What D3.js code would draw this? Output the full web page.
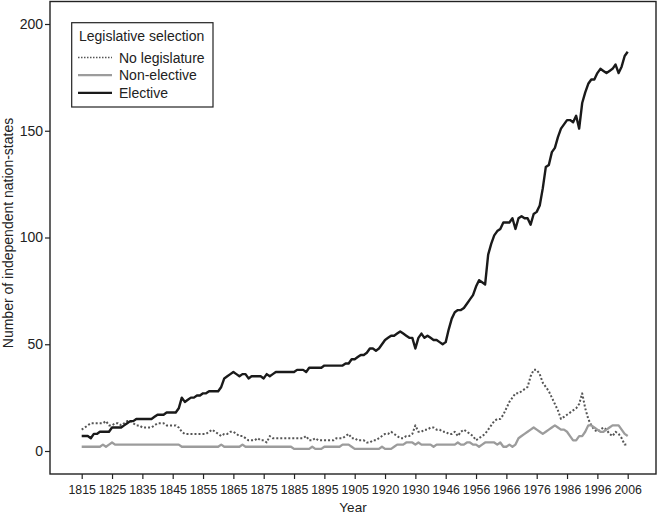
<!DOCTYPE html>
<html>
<head>
<meta charset="utf-8">
<script src="https://cdn.jsdelivr.net/npm/d3@7"></script>
<style>
  html, body { margin: 0; padding: 0; background: #fff; }
  svg { display: block; font-family: "Liberation Sans", Arial, Helvetica, sans-serif; }
</style>
</head>
<body>
<svg id="chart" width="659" height="515"></svg>
<script>
// Observation years (war years 1914-1918 and 1940-1945 are not in the series)
const years = [...d3.range(1815, 1914), ...d3.range(1919, 1940), ...d3.range(1946, 2007)];
const xTickLabels = ["1815","1825","1835","1845","1855","1865","1875","1885","1895","1905",
                     "1920","1930","1946","1956","1966","1976","1986","1996","2006"];
const yTickValues = [0, 50, 100, 150, 200];

const seriesNames = ["No legislature", "Non-elective", "Elective"];

const noLegislature = [
 10,11,12,13,13,13,13,13,14,12,
 12,13,13,12,13,14,14,13,12,12,
 11,11,11,11,12,13,13,13,12,12,
 12,12,11,9,8,8,8,8,8,8,
 8,8,9,10,9,8,7,8,8,9,
 9,8,7,7,6,5,5,5,6,5,
 5,4,7,6,6,6,6,6,6,6,
 6,6,6,6,7,5,5,6,5,5,
 5,5,5,5,6,6,6,7,8,6,
 6,5,5,5,4,4,5,5,6,7,
 8,8,9,8,7,6,6,7,7,8,
 12,9,9,10,10,11,11,10,10,9,
 9,8,8,9,7,9,10,9,8,7,
 5,6,7,8,10,12,14,15,15,17,
 20,23,25,27,27,28,29,30,35,38,
 38,36,32,30,28,25,22,19,15,16,
 17,18,19,20,22,27,20,15,12,10,
 9,10,11,10,8,7,9,8,6,3,
 3
];

const nonElective = [
 2,2,2,2,2,2,2,3,2,3,
 4,3,3,3,3,3,3,3,3,3,
 3,3,3,3,3,3,3,3,3,3,
 3,3,3,2,2,2,2,2,2,2,
 2,2,2,2,2,2,3,2,2,2,
 2,2,2,3,2,2,2,2,2,2,
 2,2,2,2,2,2,2,2,2,2,
 1,1,1,1,1,1,2,1,1,1,
 2,2,2,2,2,2,3,3,3,2,
 1,1,1,1,1,1,1,1,1,2,
 1,1,1,2,3,3,3,4,4,4,
 3,4,3,3,3,3,2,3,3,3,
 3,3,3,3,4,3,3,4,4,3,
 3,2,3,4,4,4,4,3,4,2,
 2,3,2,3,6,7,8,9,10,11,
 10,9,8,9,10,11,12,11,10,10,
 9,7,5,5,7,7,9,12,12,11,
 10,9,9,10,11,12,12,12,10,8,
 7
];

const elective = [
 7,7,7,6,8,8,9,9,9,9,
 11,11,11,11,12,13,14,14,15,15,
 15,15,15,15,16,17,17,17,18,18,
 18,18,20,25,23,24,25,25,26,26,
 27,27,28,28,28,28,30,34,35,36,
 37,36,35,36,36,34,35,35,35,35,
 34,36,35,36,37,37,37,37,37,37,
 37,38,38,38,37,39,39,39,39,39,
 40,40,40,40,40,40,40,41,41,43,
 43,44,45,45,46,48,48,47,48,50,
 52,53,54,54,55,56,55,54,53,53,
 48,53,55,53,54,53,52,52,51,50,
 51,57,62,65,66,66,67,69,71,73,
 77,80,79,78,92,97,101,103,104,107,
 107,107,109,104,109,110,109,109,106,111,
 112,115,123,133,134,140,142,147,151,153,
 155,155,154,157,151,163,168,172,174,174,
 177,179,178,177,178,179,181,177,180,185,
 187
];

const seriesData = [noLegislature, nonElective, elective];
const seriesStyle = [
  { color: "#555555", width: 2, dash: "2,2" },
  { color: "#9c9c9c", width: 2.3, dash: null },
  { color: "#1a1a1a", width: 2.4, dash: null }
];

const svg = d3.select("#chart");
const frame = { left: 50, right: 656, top: 1.5, bottom: 474 };

const x = d3.scaleLinear().domain([0, years.length - 1]).range([81.7, 627.7]);
const y = d3.scaleLinear().domain([0, 200]).range([451, 24]);

// frame
svg.append("rect")
  .attr("x", frame.left).attr("y", frame.top)
  .attr("width", frame.right - frame.left).attr("height", frame.bottom - frame.top)
  .attr("fill", "none").attr("stroke", "#222").attr("stroke-width", 1.4);

// y axis
const yAxis = svg.append("g").attr("transform", `translate(${frame.left},0)`)
  .call(d3.axisLeft(y).tickValues(yTickValues).tickSize(5).tickPadding(2).tickFormat(d3.format("d")));
yAxis.select(".domain").remove();
yAxis.selectAll(".tick line").attr("stroke", "#222").attr("stroke-width", 1.2);
yAxis.selectAll(".tick text").attr("font-size", 14).attr("fill", "#222")
  .attr("font-family", "Liberation Sans, Arial, sans-serif");

// x axis
const xAxis = svg.append("g").attr("transform", `translate(0,${frame.bottom})`)
  .call(d3.axisBottom(x).tickValues(d3.range(0, years.length, 10)).tickSize(5).tickPadding(6)
    .tickFormat((d, i) => xTickLabels[i]));
xAxis.select(".domain").remove();
xAxis.selectAll(".tick line").attr("stroke", "#222").attr("stroke-width", 1.2);
xAxis.selectAll(".tick text").attr("font-size", 12.3).attr("fill", "#222")
  .attr("font-family", "Liberation Sans, Arial, sans-serif");

// axis titles
svg.append("text").attr("x", 353).attr("y", 512).attr("text-anchor", "middle")
  .attr("font-size", 13.5).attr("fill", "#222").text("Year");
svg.append("text").attr("transform", "translate(13,233) rotate(-90)")
  .attr("text-anchor", "middle").attr("font-size", 14).attr("fill", "#222")
  .text("Number of independent nation-states");

// lines
const line = d3.line().x((d, i) => x(i)).y(d => y(d));
seriesData.forEach((vals, k) => {
  const st = seriesStyle[k];
  const p = svg.append("path").datum(vals)
    .attr("d", line).attr("fill", "none")
    .attr("stroke", st.color).attr("stroke-width", st.width)
    .attr("stroke-linejoin", "round");
  if (st.dash) p.attr("stroke-dasharray", st.dash);
});

// legend
const lg = svg.append("g");
lg.append("rect").attr("x", 71.7).attr("y", 22.7).attr("width", 141.3).attr("height", 84.3)
  .attr("fill", "#fff").attr("stroke", "#222").attr("stroke-width", 1.2);
lg.append("text").attr("x", 79).attr("y", 41).attr("font-size", 14).attr("fill", "#222")
  .text("Legislative selection");
seriesNames.forEach((name, k) => {
  const st = seriesStyle[k];
  const cy = 57.5 + k * 17.7;
  const l = lg.append("line").attr("x1", 78).attr("x2", 112).attr("y1", cy).attr("y2", cy)
    .attr("stroke", st.color).attr("stroke-width", k === 0 ? 1.5 : st.width);
  if (st.dash) l.attr("stroke-dasharray", "1.5,1.5");
  lg.append("text").attr("x", 119).attr("y", cy + 5).attr("font-size", 14).attr("fill", "#222")
    .text(name);
});
</script>
</body>
</html>
